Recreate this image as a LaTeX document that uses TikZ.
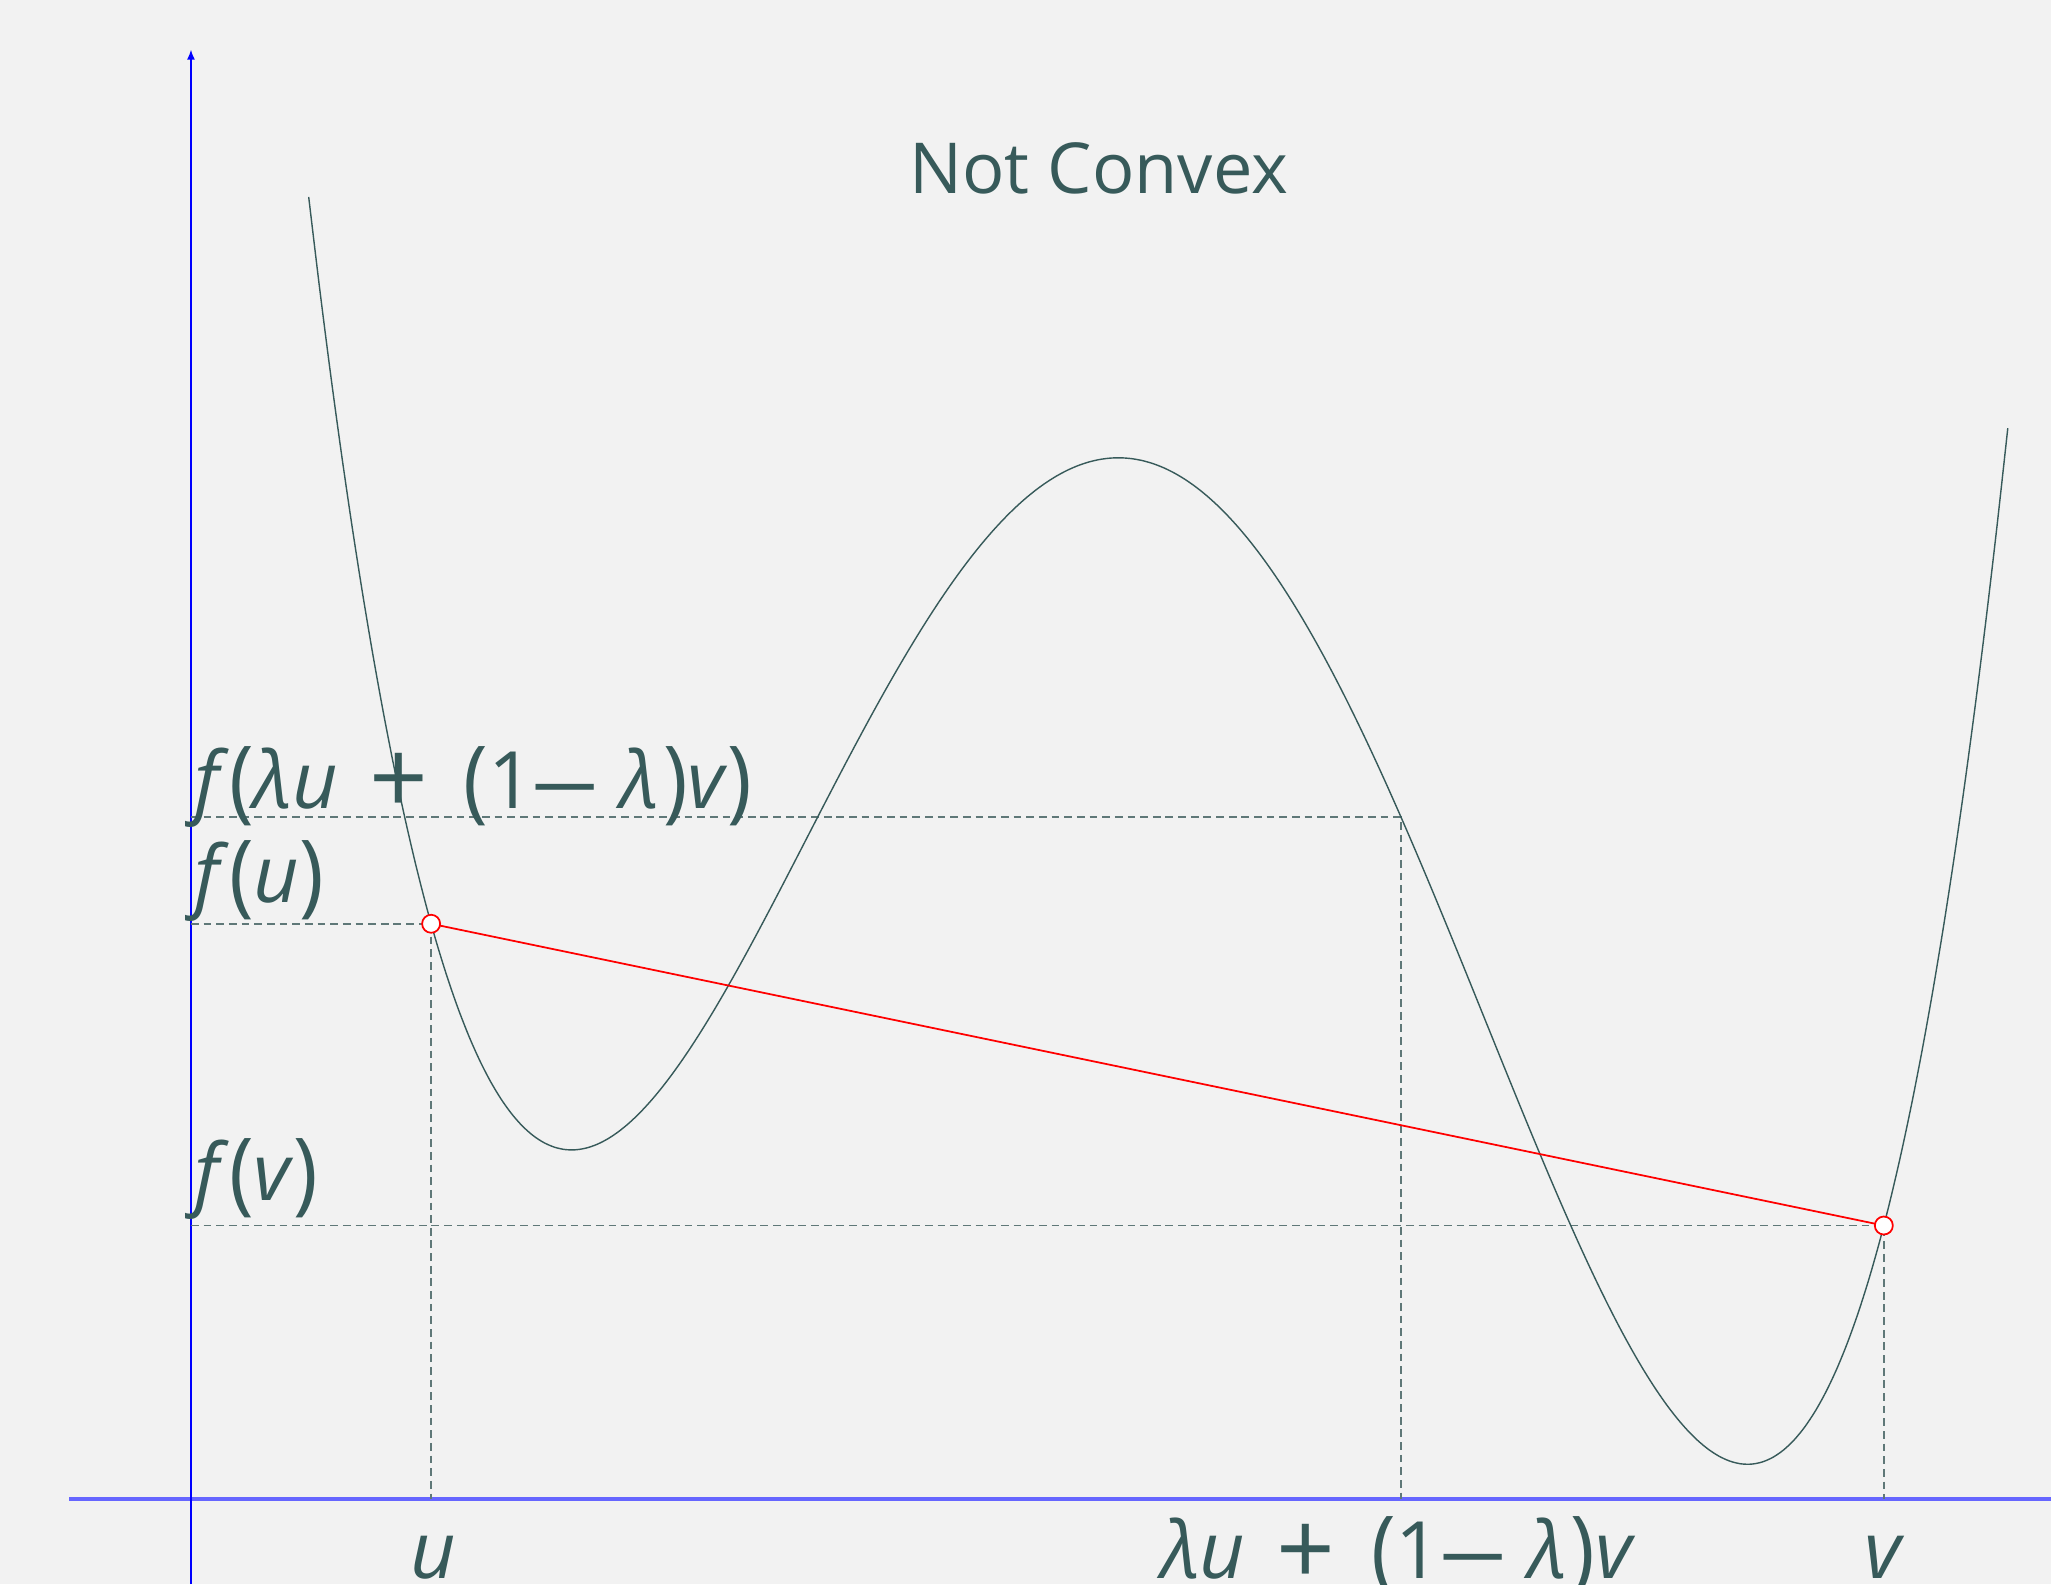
\documentclass[tikz,border=0pt]{standalone}
\usepackage{fontspec}
\usepackage{graphicx}
\setmainfont{Open Sans}
\usetikzlibrary{arrows.meta}

\definecolor{bg}{RGB}{242,242,242}
\definecolor{ink}{RGB}{55,90,90}
\definecolor{guide}{RGB}{95,120,120}

\newcommand{\bigpr}[1]{\raisebox{-0.04em}{\scalebox{1.05}[1.15]{#1}}}
\newcommand{\mixlbl}{\textit{λu}\hspace{0.4em}\raisebox{-0.08em}{\scalebox{1.3}{+}}\hspace{0.45em}\bigpr{(}1\scalebox{0.8}[1]{—}\hspace{0.3em}\textit{λ}\hspace{0.05em}\bigpr{)}\textit{v}}

\begin{document}
\begin{tikzpicture}[
      x=0.01308cm, y=-0.01308cm,
      declare function={fh(\t)=350-6.3*(0.25*\t*\t*\t*\t-0.21*\t*\t*\t-10.0529*\t*\t);},
      curve/.style={draw=ink, line width=0.4pt},
      chord/.style={draw=red, line width=0.5pt},
      guide/.style={draw=guide, dash pattern=on 2.2pt off 1.4pt, line width=0.5pt},
      dot/.style={circle, draw=red, fill=white, inner sep=0pt, minimum size=0.18cm, line width=0.5pt},
      title/.style={text=ink, font=\fontsize{20}{24}\selectfont, inner sep=0pt},
      lbl/.style={text=ink, font=\fontsize{22.5}{26}\selectfont, inner sep=0pt}
  ]
  % Background
  \fill[bg] (0,0) rectangle (1568,1211);
  \useasboundingbox (0,0) rectangle (1568,1211);
  % Points
  \coordinate (O) at (146,1146);
  \coordinate (u) at ({855+100*(-5.254)},{fh(-5.254)});
  \coordinate (v) at ({855+100*5.852},{fh(5.852)});
  \coordinate (m) at (1071,{fh(2.16)});
  % Axes
  \draw[blue!60, line width=0.9pt] (53,1146) -- (1568,1146);
  \draw[blue, line width=0.4pt, -{Latex[length=0.1cm, width=0.08cm]}] (146,1211) -- (146,38);
  % Guides (dashed)
  \draw[guide] (u -| O) -- (u) -- (u |- O);
  \draw[guide] (v -| O) -- (v) -- (v |- O);
  \draw[guide] (m -| O) -- (m) -- (m |- O);
  % Curve
  \draw[curve] plot[domain=-6.19:6.8, samples=160, smooth, variable=\t] ({855+100*\t}, {fh(\t)});
  % Chord
  \draw[chord] (u) -- (v);
  \node[dot] (udot) at (u) {};
  \node[dot] (vdot) at (v) {};
  % Labels
  \node[title, anchor=base] (ttl) at (840,148) {Not Convex};
  \node[lbl, anchor=base west] (fmlbl) at (148,618) {\textit{f}\bigpr{(}\mixlbl\bigpr{)}};
  \node[lbl, anchor=base west] (fulbl) at (148,690) {\textit{f}\bigpr{(}\textit{u}\bigpr{)}};
  \node[lbl, anchor=base west] (fvlbl) at (148,918) {\textit{f}\bigpr{(}\textit{v}\bigpr{)}};
  \node[lbl, anchor=base] (ulbl) at (331,1207) {\textit{u}};
  \node[lbl, anchor=base] (mlbl) at (1069,1207) {\mixlbl};
  \node[lbl, anchor=base] (vlbl) at (1441,1207) {\textit{v}};
\end{tikzpicture}
\end{document}
